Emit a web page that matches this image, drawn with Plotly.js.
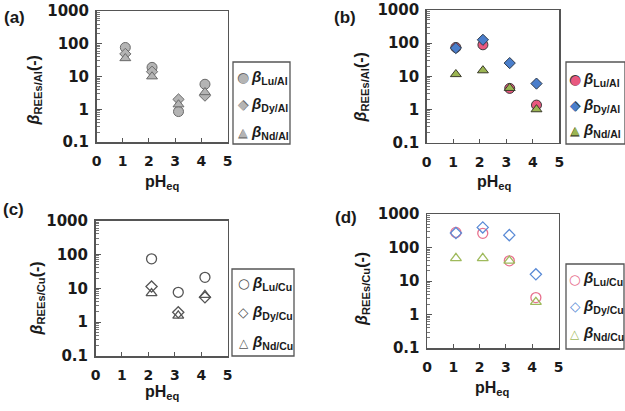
<!DOCTYPE html>
<html>
<head>
<meta charset="utf-8">
<script src="https://cdn.plot.ly/plotly-3.0.1.min.js"></script>
<style>
  html, body { margin: 0; padding: 0; background: #fff; }
  #chart { width: 625px; height: 411px; }
</style>
</head>
<body>
<div id="chart"></div>
<script>
// Equilibrium pH of each run
const pH = [1.1, 2.12, 3.13, 4.14];
const pHCu = [2.12, 3.13, 4.14];

// (a) separation factors of REEs over Al
const luAlA = [77, 19, 0.85, 5.8];
const dyAlA = [49, 14, 2.0, 2.6];
const ndAlA = [36, 10, 1.4, 3.3];

// (b) separation factors of REEs over Al
const luAlB = [74, 89, 4.3, 1.35];
const dyAlB = [71, 126, 25, 6.0];
const ndAlB = [11.5, 15, 4.4, 1.0];

// (c) separation factors of REEs over Cu
const luCuC = [74, 7.6, 21];
const dyCuC = [11.2, 1.95, 5.4];
const ndCuC = [7.1, 1.55, 6.3];

// (d) separation factors of REEs over Cu
const luCuD = [282, 265, 40, 3.2];
const dyCuD = [269, 398, 234, 15.8];
const ndCuD = [48, 48, 40, 2.35];

// Series labels
const alLabels = ['Lu/Al', 'Dy/Al', 'Nd/Al'];
const cuLabels = ['Lu/Cu', 'Dy/Cu', 'Nd/Cu'];
const panelLabels = ['(a)', '(b)', '(c)', '(d)'];
const yTitleSubs = ['REEs/Al', 'REEs/Al', 'REEs/Cu', 'REEs/Cu'];

// Axis ticks
const yTickVals = [0.1, 1, 10, 100, 1000];
const yTickText = ['0.1', '1', '10', '100', '1000'];
const xTickVals = [0, 1, 2, 3, 4, 5];
const xTickText = ['0', '1', '2', '3', '4', '5'];

const W = 625, H = 411;
const px = x => x / W;
const py = y => 1 - y / H;

const AXIS = '#555555';
const TITLE_FONT = 'Liberation Sans, Arial, sans-serif';
const TICK_FONT = 'DejaVu Sans, sans-serif';

// minor ticks at 2..9 of each decade
const minorVals = [];
for (let d = -1; d < 3; d++) {
  for (let k = 2; k <= 9; k++) minorVals.push(k * Math.pow(10, d));
}

// Panel boxes in pixels: [left, right, top, bottom]
const boxes = [
  [96.5, 227.5, 11, 142],
  [426.7, 559.3, 10, 142.5],
  [95.5, 227.7, 220.5, 356],
  [427, 558.5, 214, 348]
];

// Marker styles per panel: [Lu, Dy, Nd]
const SYMS = ['circle', 'diamond', 'triangle-up'];
const SIZES = [10, 8.6, 9.5];
const styles = [
  [{fill: '#b4b4b4', line: '#6a6a6a'}, {fill: '#b4b4b4', line: '#6a6a6a'}, {fill: '#b4b4b4', line: '#6a6a6a'}],
  [{fill: '#e9587f', line: '#3a3a3a'}, {fill: '#4a7ecb', line: '#2e3a4a'}, {fill: '#9bb552', line: '#3a3a2a'}],
  [{fill: 'rgba(0,0,0,0)', line: '#555555'}, {fill: 'rgba(0,0,0,0)', line: '#555555'}, {fill: 'rgba(0,0,0,0)', line: '#555555'}],
  [{fill: 'rgba(0,0,0,0)', line: '#e8728f'}, {fill: 'rgba(0,0,0,0)', line: '#5b8bd6'}, {fill: 'rgba(0,0,0,0)', line: '#9fba5c'}]
];

const panelData = [
  {x: pH, ys: [luAlA, dyAlA, ndAlA], names: alLabels},
  {x: pH, ys: [luAlB, dyAlB, ndAlB], names: alLabels},
  {x: pHCu, ys: [luCuC, dyCuC, ndCuC], names: cuLabels},
  {x: pH, ys: [luCuD, dyCuD, ndCuD], names: cuLabels}
];

const traces = [];
panelData.forEach((p, i) => {
  const sfx = i === 0 ? '' : String(i + 1);
  p.ys.forEach((vals, s) => {
    const st = styles[i][s];
    traces.push({
      type: 'scatter',
      mode: 'markers',
      x: p.x,
      y: vals,
      name: 'β' + p.names[s],
      xaxis: 'x' + sfx,
      yaxis: 'y' + sfx,
      showlegend: false,
      marker: {
        symbol: SYMS[s],
        size: SIZES[s],
        color: st.fill,
        line: {color: st.line, width: i >= 2 ? 1.3 : 1}
      },
      hoverinfo: 'x+y+name'
    });
  });
});

const layout = {
  width: W,
  height: H,
  margin: {l: 0, r: 0, t: 0, b: 0},
  paper_bgcolor: '#ffffff',
  plot_bgcolor: '#ffffff',
  showlegend: false,
  annotations: [],
  shapes: []
};

boxes.forEach((b, i) => {
  const sfx = i === 0 ? '' : String(i + 1);
  layout['xaxis' + sfx] = {
    domain: [px(b[0]), px(b[1])],
    anchor: 'y' + sfx,
    range: [0, 5],
    tickmode: 'array',
    tickvals: xTickVals,
    ticktext: xTickText,
    ticks: 'inside',
    ticklen: 4,
    tickwidth: 1,
    tickcolor: AXIS,
    ticklabelstandoff: 6,
    showgrid: false,
    zeroline: false,
    showline: true,
    linecolor: AXIS,
    linewidth: 1.5,
    mirror: true,
    tickfont: {family: TICK_FONT, size: 14, color: '#1a1a1a', weight: 'bold'}
  };
  layout['yaxis' + sfx] = {
    domain: [py(b[3]), py(b[2])],
    anchor: 'x' + sfx,
    type: 'log',
    range: [-1, 3],
    tickmode: 'array',
    tickvals: yTickVals,
    ticktext: yTickText,
    ticks: 'inside',
    ticklen: 5,
    tickwidth: 1,
    tickcolor: AXIS,
    ticklabelstandoff: 3,
    minor: {tickmode: 'array', tickvals: minorVals, ticks: 'inside', ticklen: 3, tickwidth: 0.8, tickcolor: AXIS, showgrid: false},
    showgrid: false,
    zeroline: false,
    showline: true,
    linecolor: AXIS,
    linewidth: 1.5,
    mirror: true,
    tickfont: {family: TICK_FONT, size: 15, color: '#1a1a1a', weight: 'bold'}
  };
});

// Axis titles and panel labels (pixel positions)
const yTitlePos = [[34, 90.5], [361, 87.5], [37, 298.5], [362, 289]];
const xTitlePos = [[163, 182], [494, 182], [162, 392], [493, 388]];
const panelPos = [[14, 18], [345, 17.5], [13, 209], [346, 217]];

for (let i = 0; i < 4; i++) {
  layout.annotations.push({
    xref: 'paper', yref: 'paper',
    x: px(yTitlePos[i][0]), y: py(yTitlePos[i][1]),
    xanchor: 'center', yanchor: 'middle',
    textangle: -90, showarrow: false,
    text: '<b><i>β</i><sub>' + yTitleSubs[i] + '</sub>(-)</b>',
    font: {family: TITLE_FONT, size: 16, color: '#1a1a1a'}
  });
  layout.annotations.push({
    xref: 'paper', yref: 'paper',
    x: px(xTitlePos[i][0]), y: py(xTitlePos[i][1]),
    xanchor: 'center', yanchor: 'middle',
    showarrow: false,
    text: '<b>pH<sub>eq</sub></b>',
    font: {family: TITLE_FONT, size: 16, color: '#1a1a1a'}
  });
  layout.annotations.push({
    xref: 'paper', yref: 'paper',
    x: px(panelPos[i][0]), y: py(panelPos[i][1]),
    xanchor: 'center', yanchor: 'middle',
    showarrow: false,
    text: '<b>' + panelLabels[i] + '</b>',
    font: {family: TITLE_FONT, size: 17, color: '#1a1a1a'}
  });
}

// Legend boxes: [left, right, top, bottom], key x, text x, row ys
const legends = [
  {box: [233, 290, 62, 144], keyX: 243, textX: 249, rows: [77.5, 104.5, 132.5]},
  {box: [566, 625, 62, 144], keyX: 575, textX: 581, rows: [79, 105, 131]},
  {box: [232, 294, 269, 356], keyX: 243.5, textX: 249.5, rows: [283, 312, 342.5]},
  {box: [566, 624, 264, 349], keyX: 575, textX: 580.5, rows: [278.5, 306, 333.5]}
];

const filledGlyph = ['●', '◆', '▲'];
const openGlyph = ['○', '◇', '△'];
const glyphSize = [12.5, 12.5, 11];

legends.forEach((lg, i) => {
  const b = lg.box;
  layout.shapes.push({
    type: 'rect', xref: 'paper', yref: 'paper',
    x0: px(b[0]), x1: px(b[1]), y0: py(b[3]), y1: py(b[2]),
    line: {color: AXIS, width: 1.3}, fillcolor: 'rgba(0,0,0,0)'
  });
  const names = panelData[i].names;
  names.forEach((nm, s) => {
    const st = styles[i][s];
    const ky = lg.rows[s];
    const open = i >= 2;
    if (!open) {
      // outline glyph behind the filled one
      layout.annotations.push({
        xref: 'paper', yref: 'paper', x: px(lg.keyX), y: py(ky),
        xanchor: 'center', yanchor: 'middle', showarrow: false,
        text: filledGlyph[s],
        font: {family: 'DejaVu Sans', size: glyphSize[s] + 1.6, color: st.line}
      });
      layout.annotations.push({
        xref: 'paper', yref: 'paper', x: px(lg.keyX), y: py(ky),
        xanchor: 'center', yanchor: 'middle', showarrow: false,
        text: filledGlyph[s],
        font: {family: 'DejaVu Sans', size: glyphSize[s], color: st.fill}
      });
    } else {
      layout.annotations.push({
        xref: 'paper', yref: 'paper', x: px(lg.keyX), y: py(ky),
        xanchor: 'center', yanchor: 'middle', showarrow: false,
        text: openGlyph[s],
        font: {family: 'DejaVu Sans', size: glyphSize[s] + 1, color: st.line}
      });
    }
    layout.annotations.push({
      xref: 'paper', yref: 'paper', x: px(lg.textX), y: py(ky),
      xanchor: 'left', yanchor: 'middle', showarrow: false,
      text: '<b><i>β</i><sub>' + nm + '</sub></b>',
      font: {family: TITLE_FONT, size: 15, color: '#1a1a1a'}
    });
  });
});

Plotly.newPlot('chart', traces, layout, {displayModeBar: false, staticPlot: true});
</script>
</body>
</html>
